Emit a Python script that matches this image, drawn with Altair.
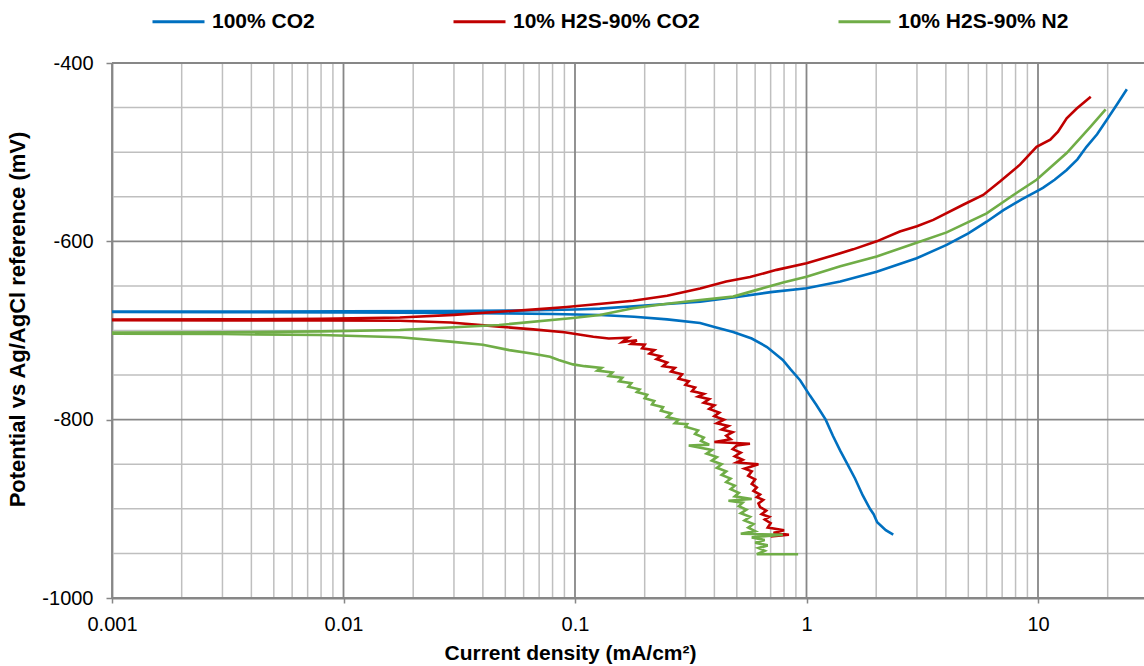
import altair as alt
import pandas as pd

FONT = "Liberation Sans"

series_names = ["100% CO2", "10% H2S-90% CO2", "10% H2S-90% N2"]
series_colors = ["#0070C0", "#C00000", "#70AD47"]

# 100% CO2: cathodic branch (from scan start) then anodic branch
co2_x = [2.37, 2.2, 2.02, 1.95, 1.88, 1.75, 1.62, 1.51, 1.4, 1.3, 1.21, 1.1, 1.035, 0.94, 0.85, 0.79,
         0.675, 0.58, 0.482, 0.4, 0.347, 0.25, 0.18, 0.128, 0.08, 0.05, 0.03, 0.01, 0.003, 0.0008,
         0.0008, 0.003, 0.01, 0.028, 0.06, 0.1, 0.128, 0.2, 0.347, 0.5, 0.7, 1.0, 1.4, 2.01, 2.99,
         4.03, 5.0, 6.0, 7.09, 8.5, 9.86, 10.5, 11.8, 13.3, 14.8, 16.2, 18.0, 19.8, 22.0, 24.2]
co2_y = [-929, -924, -915, -906, -900, -885, -866, -851, -835, -818, -800, -783, -773, -756, -743, -733,
         -718.5, -709, -701.7, -696, -691.6, -687.5, -684.5, -682.6, -681.5, -680.8, -680.3, -679.8, -679.5, -679.3,
         -678.8, -678.7, -678.6, -678.3, -677.5, -676.5, -675.5, -672, -667.7, -662.5, -657, -652.7, -645, -634, -619,
         -604, -591, -578, -565, -553, -544, -540, -531, -520, -508, -494, -480, -464, -446, -429.5]

# 10% H2S-90% CO2
h2s_co2_x = [0.70, 0.84, 0.72, 0.80, 0.68, 0.70, 0.66, 0.69, 0.64, 0.67, 0.63, 0.62, 0.65, 0.61, 0.63, 0.59,
             0.61, 0.58, 0.60, 0.56, 0.58, 0.54, 0.62, 0.50, 0.53, 0.49, 0.52, 0.48, 0.50, 0.57, 0.40, 0.47,
             0.45, 0.48, 0.43, 0.46, 0.41, 0.44, 0.40, 0.42, 0.38, 0.40, 0.36, 0.38, 0.34, 0.36, 0.32, 0.33,
             0.30, 0.31, 0.28, 0.29, 0.26, 0.27, 0.24, 0.25, 0.225, 0.235, 0.21, 0.22, 0.195, 0.20, 0.175,
             0.185, 0.16, 0.17, 0.14, 0.12, 0.09, 0.066, 0.047, 0.029, 0.0175, 0.008, 0.003, 0.0008,
             0.0008, 0.003, 0.008, 0.0175, 0.03, 0.047, 0.07, 0.092, 0.13, 0.178, 0.25, 0.347, 0.45, 0.57,
             0.743, 1.0, 1.3, 1.59, 2.01, 2.53, 3.0, 3.53, 4.75, 5.8, 6.85, 8.36, 9.86, 11.3, 12.2, 13.3,
             14.7, 16.9]
h2s_co2_y = [-931, -929, -927, -924, -921, -916, -912, -909, -906, -902, -898, -894, -890, -887, -884, -880,
             -876, -872, -867, -863, -858, -855, -850, -848, -845, -841, -837, -833, -829, -827, -825, -822,
             -818, -814, -811, -807, -804, -800, -796, -792, -788, -784, -781, -777, -774, -771, -768, -764,
             -761, -757, -754, -749, -746, -742, -740, -736, -732, -729, -726, -722, -720, -716, -715,
             -711, -713, -708, -709, -707, -702, -698.7, -695.7, -691, -689, -688.8, -688.6, -688.5,
             -687.8, -687.5, -687, -685.5, -682.5, -679, -676, -673.6, -670, -666.6, -661, -653, -645, -640,
             -632, -624.6, -616, -609, -600, -589, -583, -576, -559, -548, -533, -514, -494, -486, -477, -462,
             -451, -437.8]

# 10% H2S-90% N2
h2s_n2_x = [0.92, 0.61, 0.66, 0.62, 0.68, 0.60, 0.66, 0.58, 0.79, 0.52, 0.60, 0.56, 0.59, 0.54, 0.57, 0.52,
            0.55, 0.51, 0.53, 0.46, 0.58, 0.49, 0.51, 0.47, 0.49, 0.45, 0.47, 0.43, 0.45, 0.41, 0.43, 0.39,
            0.41, 0.37, 0.39, 0.31, 0.38, 0.35, 0.36, 0.33, 0.34, 0.30, 0.305, 0.27, 0.28, 0.25, 0.26, 0.235,
            0.24, 0.215, 0.22, 0.20, 0.205, 0.185, 0.19, 0.17, 0.175, 0.155, 0.16, 0.14, 0.145, 0.125, 0.13,
            0.11, 0.098, 0.085, 0.078, 0.066, 0.052, 0.040, 0.029, 0.0175, 0.008, 0.003, 0.0008,
            0.0008, 0.003, 0.008, 0.0175, 0.047, 0.098, 0.128, 0.178, 0.25, 0.347, 0.482, 0.6, 0.8, 1.0, 1.4,
            2.01, 2.99, 4.03, 6.0, 7.83, 9.86, 13.3, 16.8, 19.6]
h2s_n2_y = [-951, -951, -947, -944, -941, -938, -935, -932, -929, -928, -925, -921, -917, -913, -909, -905,
            -901, -897, -893, -891, -889, -886, -882, -878, -874, -870, -866, -862, -858, -854, -850, -846,
            -842, -838, -834, -829, -828, -824, -820, -816, -812, -808, -805, -804, -800, -797, -793, -790,
            -786, -783, -779, -776, -772, -769, -766, -763, -759, -757, -753, -751, -747, -745, -742,
            -740, -738, -733, -729.5, -726, -722, -716, -712.5, -707.6, -705, -704, -703.5,
            -702.5, -702, -701, -699.5, -693.8, -686, -682.6, -675, -670, -665.8, -662, -655, -646, -639.6, -628,
            -617, -601.5, -590, -568.6, -548, -531, -501, -472, -452]

x_major = [0.001, 0.01, 0.1, 1, 10]
x_minor = [0.002, 0.003, 0.004, 0.005, 0.006, 0.007, 0.008, 0.009,
           0.02, 0.03, 0.04, 0.05, 0.06, 0.07, 0.08, 0.09,
           0.2, 0.3, 0.4, 0.5, 0.6, 0.7, 0.8, 0.9,
           2, 3, 4, 5, 6, 7, 8, 9, 20]
y_major = [-1000, -800, -600, -400]
y_minor = [-950, -900, -850, -750, -700, -650, -550, -500, -450]

rows = []
for name, xs, ys in [(series_names[0], co2_x, co2_y),
                     (series_names[1], h2s_co2_x, h2s_co2_y),
                     (series_names[2], h2s_n2_x, h2s_n2_y)]:
    for i, (a, b) in enumerate(zip(xs, ys)):
        rows.append({"series": name, "x": a, "y": b, "idx": i})
df = pd.DataFrame(rows)

xscale = alt.Scale(type="log", domain=[0.001, 28.7], nice=False)
yscale = alt.Scale(domain=[-1000, -400], nice=False, zero=False)

minor_col = "#BFBFBF"
major_col = "#878787"

x_title = "Current density (mA/cm²)"
y_title = "Potential vs Ag/AgCl reference (mV)"

x_axis = alt.Axis(values=x_major, format="~g", grid=False,
                  labelFont=FONT, labelFontSize=20, labelColor="#000000",
                  titleFont=FONT, titleFontSize=21, titleFontWeight="bold", titleColor="#000000",
                  domainColor=major_col, domainWidth=1.8, tickColor=major_col, tickSize=5,
                  tickWidth=1.5, labelPadding=11, titleX=458, titleY=55, titleAlign="center",
                  titleBaseline="middle", labelFlush=False)
y_axis = alt.Axis(values=y_major, labelExpr="'' + datum.value", grid=False,
                  labelFont=FONT, labelFontSize=20, labelColor="#000000",
                  titleFont=FONT, titleFontSize=22, titleFontWeight="bold", titleColor="#000000",
                  domainColor=major_col, domainWidth=1.8, tickColor=major_col, tickSize=6,
                  tickWidth=1.5, labelPadding=13, titleX=-95, titleY=256, titleAngle=270,
                  titleAlign="center", titleBaseline="middle", labelFlush=False)

vx_minor = alt.Chart(pd.DataFrame({"v": x_minor})).mark_rule(color=minor_col, strokeWidth=1.5).encode(
    x=alt.X("v:Q", scale=xscale, axis=x_axis, title=x_title))
vx_major = alt.Chart(pd.DataFrame({"v": x_major})).mark_rule(color=major_col, strokeWidth=1.8).encode(
    x=alt.X("v:Q", scale=xscale, axis=x_axis, title=x_title))
hy_minor = alt.Chart(pd.DataFrame({"v": y_minor})).mark_rule(color=minor_col, strokeWidth=1.5).encode(
    y=alt.Y("v:Q", scale=yscale, axis=y_axis, title=y_title))
hy_major = alt.Chart(pd.DataFrame({"v": y_major})).mark_rule(color=major_col, strokeWidth=1.8).encode(
    y=alt.Y("v:Q", scale=yscale, axis=y_axis, title=y_title))

lines = alt.Chart(df).mark_line(clip=True, strokeWidth=2.6).encode(
    x=alt.X("x:Q", scale=xscale, axis=x_axis, title=x_title),
    y=alt.Y("y:Q", scale=yscale, axis=y_axis, title=y_title),
    color=alt.Color("series:N", scale=alt.Scale(domain=series_names, range=series_colors),
                    legend=alt.Legend(orient="none", legendX=39, legendY=-69, direction="horizontal",
                                      title=None, symbolType="stroke", symbolSize=2704,
                                      symbolStrokeWidth=3, labelFont=FONT, labelFontSize=21,
                                      labelFontWeight="bold", labelColor="#000000", columnPadding=132,
                                      labelOffset=6, padding=0, labelLimit=0)),
    order=alt.Order("idx:Q"),
)

chart = alt.layer(vx_minor, hy_minor, vx_major, hy_major, lines).properties(
    width=1032, height=535,
    autosize=alt.AutoSizeParams(type="none"),
    padding={"left": 112, "top": 63, "right": 0, "bottom": 68},
    background="white",
).configure_view(stroke=None)

chart.save("out.html", embed_options={"renderer": "svg", "actions": False})
